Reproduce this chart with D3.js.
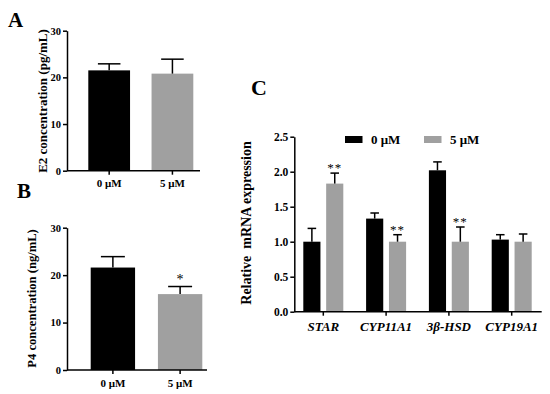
<!DOCTYPE html>
<html>
<head>
<meta charset="utf-8">
<script src="https://cdn.jsdelivr.net/npm/d3@7"></script>
<style>
  body { margin: 0; background: #fff; }
  svg { display: block; font-family: "Liberation Serif", "Times New Roman", serif; font-weight: bold; }
  .axis path, .axis line { stroke: #000; stroke-width: 1.5; }
  .axis text { font-family: "Liberation Serif", serif; font-weight: bold; font-size: 10.5px; fill: #000; }
</style>
</head>
<body>
<div id="chart"></div>
<script>
// data
const doses = ["0 μM", "5 μM"];
const colors = ["#000000", "#a0a0a0"];

const e2Mean = [21.5, 20.8];
const e2Err = [22.9, 23.9];

const p4Mean = [21.6, 16.0];
const p4Err = [23.9, 17.6];
const p4Sig = ["", "*"];

const genes = ["STAR", "CYP11A1", "3β-HSD", "CYP19A1"];
const mrna0 = [1.00, 1.33, 2.02, 1.03];
const mrna0Err = [1.19, 1.41, 2.14, 1.10];
const mrna5 = [1.83, 1.00, 1.00, 1.00];
const mrna5Err = [1.98, 1.10, 1.21, 1.11];
const mrnaSig = ["**", "**", "**", ""];

const ticksAB = [0, 10, 20, 30];
const ticksC = [0, 0.5, 1.0, 1.5, 2.0, 2.5];

const svg = d3.select("#chart").append("svg")
    .attr("width", 550)
    .attr("height", 394);

// small panels A and B
function drawPanel(cfg, mean, err, sig) {
    var g = svg.append("g");
    var y = d3.scaleLinear().domain([0, 30]).range([cfg.y0, cfg.y1]);
    var x = d3.scaleBand().domain(doses).range([cfg.xa, cfg.xb]).paddingInner(0.34);
    var rows = doses.map(function (d, i) { return { dose: d, v: mean[i], e: err[i], s: sig ? sig[i] : "", c: colors[i] }; });

    g.selectAll("rect.bar")
        .data(rows)
        .enter()
        .append("rect")
        .attr("class", "bar")
        .attr("x", function (d) { return x(d.dose); })
        .attr("y", function (d) { return y(d.v); })
        .attr("width", x.bandwidth())
        .attr("height", function (d) { return y(0) - y(d.v); })
        .attr("fill", function (d) { return d.c; });

    // error bars (upper only)
    var eb = g.selectAll("g.err").data(rows).enter().append("g").attr("class", "err")
        .attr("stroke", "#000").attr("stroke-width", 1.5);
    eb.append("line")
        .attr("x1", function (d) { return x(d.dose) + x.bandwidth() / 2; })
        .attr("x2", function (d) { return x(d.dose) + x.bandwidth() / 2; })
        .attr("y1", function (d) { return y(d.v); })
        .attr("y2", function (d) { return y(d.e); });
    eb.append("line")
        .attr("x1", function (d) { return x(d.dose) + x.bandwidth() * 0.23; })
        .attr("x2", function (d) { return x(d.dose) + x.bandwidth() * 0.77; })
        .attr("y1", function (d) { return y(d.e); })
        .attr("y2", function (d) { return y(d.e); });

    g.selectAll("text.sig").data(rows).enter().append("text")
        .attr("class", "sig")
        .attr("x", function (d) { return x(d.dose) + x.bandwidth() / 2; })
        .attr("y", function (d) { return y(d.e) - 3; })
        .attr("text-anchor", "middle")
        .style("font-size", "14px")
        .style("font-weight", "normal")
        .text(function (d) { return d.s; });

    g.append("g")
        .attr("class", "axis")
        .attr("transform", "translate(" + cfg.ax + ",0)")
        .call(d3.axisLeft(y).tickValues(ticksAB).tickSize(4).tickSizeOuter(0).tickPadding(2));

    var xa = g.append("g")
        .attr("class", "axis")
        .attr("transform", "translate(0," + cfg.y0 + ")")
        .call(d3.axisBottom(x).tickSize(4).tickSizeOuter(0).tickPadding(5));
    xa.select(".domain").attr("d", "M" + cfg.ax + ",0H" + cfg.xend);
    xa.selectAll("text").style("font-size", "11px");

    g.append("text")
        .attr("transform", "translate(" + cfg.labx + "," + cfg.laby + ") rotate(-90)")
        .attr("text-anchor", "middle")
        .style("font-size", cfg.labsize)
        .text(cfg.label);

    g.append("text")
        .attr("x", cfg.lx).attr("y", cfg.ly)
        .style("font-size", "21px")
        .text(cfg.letter);
}

drawPanel({ y0: 170.7, y1: 30.7, xa: 88.3, xb: 193.3, ax: 67, xend: 200, labx: 47, laby: 101, labsize: "13px", label: "E2 concentration (pg/mL)", letter: "A", lx: 8, ly: 27 }, e2Mean, e2Err, null);
drawPanel({ y0: 370, y1: 227.7, xa: 90.7, xb: 202.3, ax: 67, xend: 207, labx: 36, laby: 298.5, labsize: "12.6px", label: "P4 concentration (ng/mL)", letter: "B", lx: 17, ly: 198 }, p4Mean, p4Err, p4Sig);

// panel C
var gC = svg.append("g");
var yC = d3.scaleLinear().domain([0, 2.5]).range([311.7, 136.7]);
var x0 = d3.scaleBand().domain(genes).range([292, 543]).paddingInner(0.363).paddingOuter(0.18);
var x1 = d3.scaleBand().domain(doses).range([0, x0.bandwidth()]).paddingInner(0.25);

var cRows = [];
genes.forEach(function (gn, i) {
    cRows.push({ gene: gn, dose: doses[0], v: mrna0[i], e: mrna0Err[i], s: "", c: colors[0] });
    cRows.push({ gene: gn, dose: doses[1], v: mrna5[i], e: mrna5Err[i], s: mrnaSig[i], c: colors[1] });
});

gC.selectAll("rect.bar")
    .data(cRows)
    .enter()
    .append("rect")
    .attr("x", function (d) { return x0(d.gene) + x1(d.dose); })
    .attr("y", function (d) { return yC(d.v); })
    .attr("width", x1.bandwidth())
    .attr("height", function (d) { return yC(0) - yC(d.v); })
    .attr("fill", function (d) { return d.c; });

var ebC = gC.selectAll("g.err").data(cRows).enter().append("g")
    .attr("stroke", "#000").attr("stroke-width", 1.5);
ebC.append("line")
    .attr("x1", function (d) { return x0(d.gene) + x1(d.dose) + x1.bandwidth() / 2; })
    .attr("x2", function (d) { return x0(d.gene) + x1(d.dose) + x1.bandwidth() / 2; })
    .attr("y1", function (d) { return yC(d.v); })
    .attr("y2", function (d) { return yC(d.e); });
ebC.append("line")
    .attr("x1", function (d) { return x0(d.gene) + x1(d.dose) + x1.bandwidth() * 0.25; })
    .attr("x2", function (d) { return x0(d.gene) + x1(d.dose) + x1.bandwidth() * 0.75; })
    .attr("y1", function (d) { return yC(d.e); })
    .attr("y2", function (d) { return yC(d.e); });

gC.selectAll("text.sig").data(cRows).enter().append("text")
    .attr("x", function (d) { return x0(d.gene) + x1(d.dose) + x1.bandwidth() / 2; })
    .attr("y", function (d) { return yC(d.e) - 1; })
    .attr("text-anchor", "middle")
    .style("font-size", "13px")
    .style("font-weight", "normal")
    .style("letter-spacing", "1px")
    .text(function (d) { return d.s; });

var yaC = gC.append("g")
    .attr("class", "axis")
    .attr("transform", "translate(294.3,0)")
    .call(d3.axisLeft(yC).tickValues(ticksC).tickFormat(d3.format(".1f")).tickSize(4).tickSizeOuter(0).tickPadding(2));
yaC.selectAll("text").style("font-size", "11.5px");

var xaC = gC.append("g")
    .attr("class", "axis")
    .attr("transform", "translate(0,311.7)")
    .call(d3.axisBottom(x0).tickSize(4).tickSizeOuter(0).tickPadding(6));
xaC.select(".domain").attr("d", "M294.3,0H541.7");
xaC.selectAll("text").style("font-size", "13px").style("font-style", "italic");

gC.append("text")
    .attr("transform", "translate(251,223) rotate(-90)")
    .attr("text-anchor", "middle")
    .style("font-size", "14px")
    .style("white-space", "pre")
    .text("Relative  mRNA expression");

gC.append("text")
    .attr("x", 251).attr("y", 95)
    .style("font-size", "22px")
    .text("C");

// legend
var leg = gC.selectAll("g.leg").data(doses).enter().append("g")
    .attr("transform", function (d, i) { return "translate(" + (345 + i * 79) + ",136)"; });
leg.append("rect").attr("width", 17.5).attr("height", 7)
    .attr("fill", function (d, i) { return colors[i]; });
leg.append("text").attr("x", 26).attr("y", 7.5)
    .style("font-size", "13px")
    .text(function (d) { return d; });
</script>
</body>
</html>
